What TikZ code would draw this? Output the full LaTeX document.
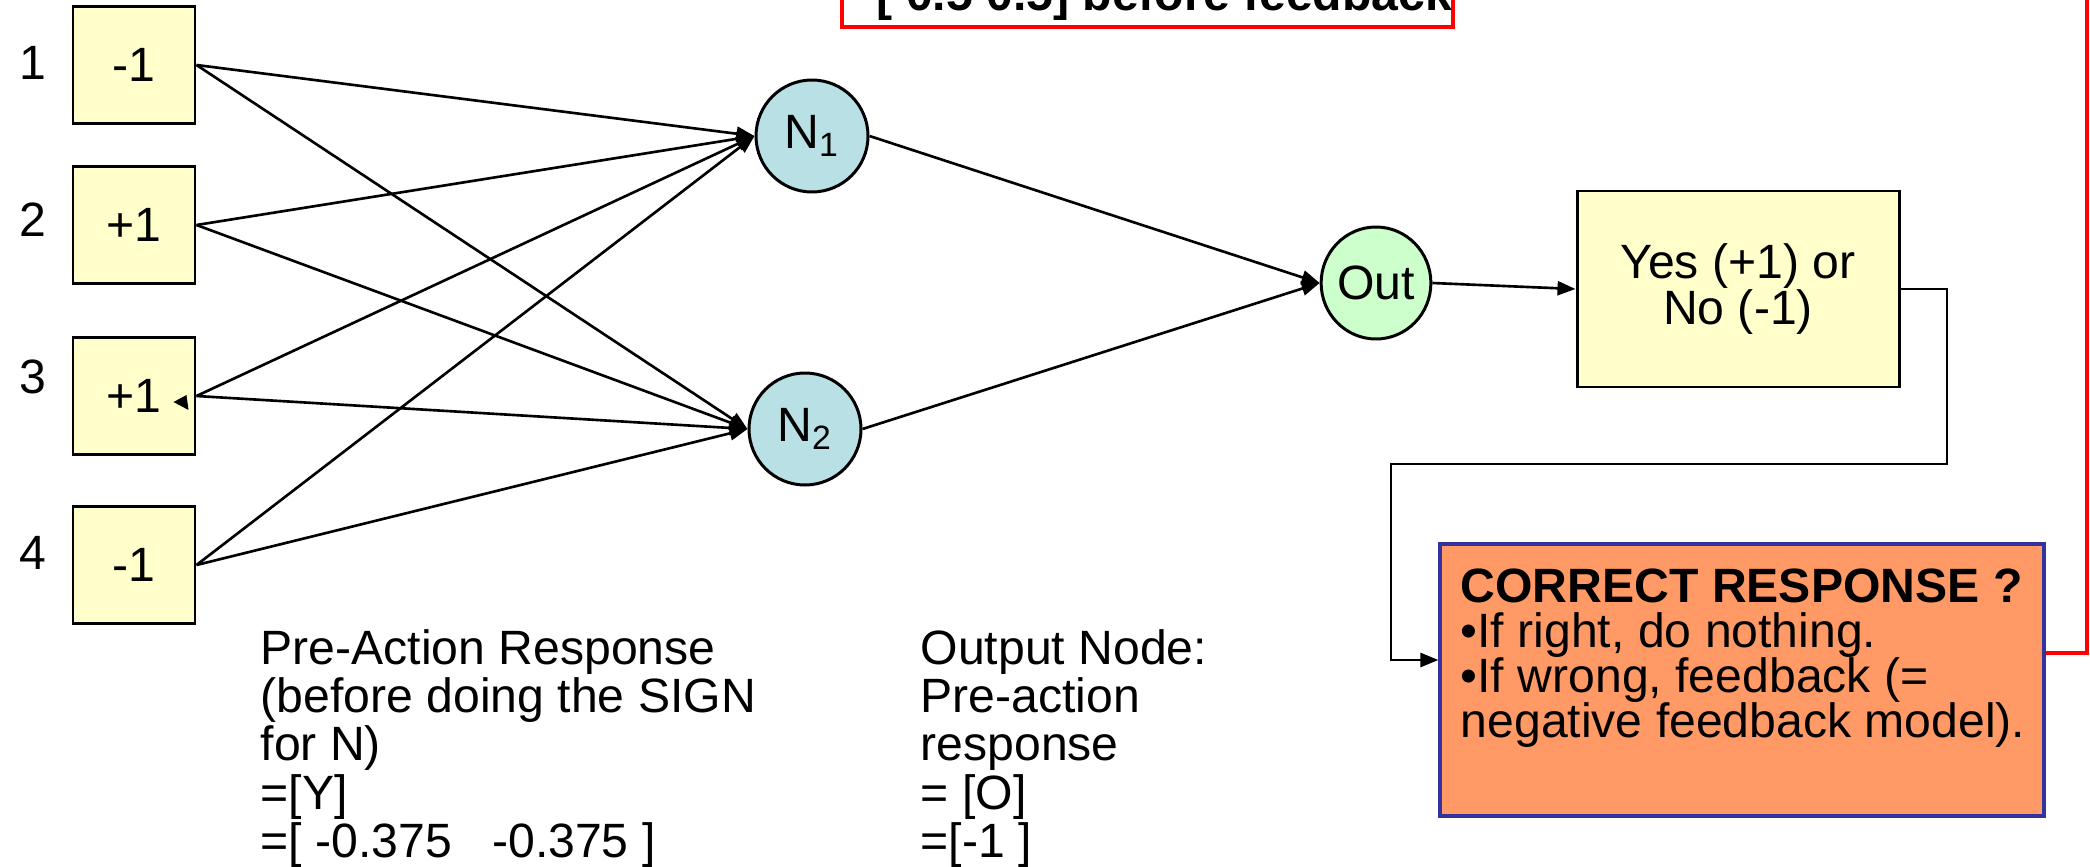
\documentclass[tikz,border=0pt]{standalone}
\usepackage{fontspec}
\setmainfont{Liberation Sans}
\usetikzlibrary{arrows.meta,shapes.geometric}
\definecolor{inyellow}{RGB}{255,255,204}
\definecolor{nteal}{RGB}{185,224,228}
\definecolor{outgreen}{RGB}{204,255,204}
\definecolor{crorange}{RGB}{255,153,102}
\definecolor{crblue}{RGB}{51,51,160}

\begin{document}
\begin{tikzpicture}[
  font=\fontsize{13.7}{13.7}\selectfont,
  inbox/.style={draw, line width=0.85pt, fill=inyellow, minimum width=1.22cm, minimum height=1.17cm, inner sep=0pt},
  neuron/.style={draw, line width=0.85pt, fill=nteal, circle, minimum size=1.12cm, inner sep=0pt},
  arr/.style={-{Triangle[length=0.18cm,width=0.14cm]}, line width=0.75pt},
  txt/.style={align=left, anchor=north west, inner sep=0pt}
]
\useasboundingbox (0,0) rectangle (20.9,-8.66);
\clip (0,0) rectangle (20.9,-8.66);

\def\xin{1.34};
\def\xlab{0.33};

\node[inbox] (in1) at (\xin, -0.65) {-1};
\node[inbox] (in2) at (\xin, -2.25) {+1};
\node[inbox] (in3) at (\xin, -3.96) {+1};
\node[inbox] (in4) at (\xin, -5.65) {-1};
\node (lab1) at (\xlab, -0.63) {1};
\node (lab2) at (\xlab, -2.20) {2};
\node (lab3) at (\xlab, -3.77) {3};
\node (lab4) at (\xlab, -5.53) {4};

\node[neuron] (n1) at (8.12, -1.36) {N\textsubscript{1}};
\node[neuron] (n2) at (8.05, -4.29) {N\textsubscript{2}};
\node[draw, ellipse, fill=outgreen, line width=0.85pt, minimum width=1.06cm, minimum height=1.12cm, inner sep=0pt] (out) at (13.76, -2.83) {Out};
\node[draw, fill=inyellow, line width=0.85pt, minimum width=3.22cm, minimum height=1.96cm, align=center, font=\fontsize{13.7}{13.1}\selectfont] (yes) at (17.38, -2.89) {Yes (+1) or\\No (-1)};

\node[draw=crblue, fill=crorange, line width=0.9pt, minimum width=6.04cm, minimum height=2.72cm] (cr) at (17.42, -6.80) {};
\node[txt, font=\fontsize{13.7}{12.8}\selectfont] (crtext) at (14.60, -5.68) {\textbf{CORRECT RESPONSE ?}\\\textbullet If right, do nothing.\\\textbullet If wrong, feedback (=\\negative feedback model).};

\node[draw=red, line width=1pt, minimum width=6.11cm, minimum height=1.5cm, anchor=south west, inner sep=0pt] (note) at (8.40, -0.29) {};
\node[anchor=base west, inner sep=0pt, font=\fontsize{13.7}{13.7}\bfseries] (notetext) at (8.76, -0.10) {[ 0.5 0.5] before feedback};

\draw[arr] (in1.east) -- (n1.west);
\draw[arr] (in1.east) -- (n2.west);
\draw[arr] (in2.east) -- (n1.west);
\draw[arr] (in2.east) -- (n2.west);
\draw[arr] (in3.east) -- (n1.west);
\draw[arr] (in3.east) -- (n2.west);
\draw[arr] (in4.east) -- (n1.west);
\draw[arr] (in4.east) -- (n2.west);
\fill[shift={(in3.east)}] (-0.23, -0.06) -- (-0.10, 0.01) -- (-0.08, -0.14) -- cycle;

\draw[arr] (n1.east) -- (out.west);
\draw[arr] (n2.east) -- (out.west);
\draw[arr] (out.east) -- (yes.west);

\coordinate (fb1) at (19.47, -4.64);
\coordinate (fb2) at (13.91, -6.60);
\draw[arr] (yes.east) -| (fb1) -| (fb2) -- (cr.west |- fb2);

\coordinate (fbout) at (20.87, -6.53);
\coordinate (fbtop) at (20.87, 0.5);
\draw[red, line width=1pt] (cr.east |- fbout) -- (fbout) -- (fbtop);

\node[txt] (preact) at (2.60, -6.29) {Pre-Action Response\\(before doing the SIGN\\for N)\\=[Y]\\=[ -0.375\ \ \ -0.375 ]};
\node[txt] (outnote) at (9.20, -6.29) {Output Node:\\Pre-action\\response\\= [O]\\=[-1 ]};

\end{tikzpicture}
\end{document}
